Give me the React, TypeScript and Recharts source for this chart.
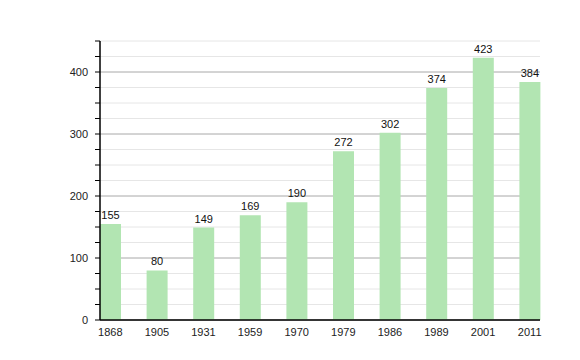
import React from "react";
import { BarChart, Bar, XAxis, YAxis, CartesianGrid, LabelList } from "recharts";

const years = ["1868", "1905", "1931", "1959", "1970", "1979", "1986", "1989", "2001", "2011"];
const population = [155, 80, 149, 169, 190, 272, 302, 374, 423, 384];
const minorTicks = [0, 25, 50, 75, 100, 125, 150, 175, 200, 225, 250, 275, 300, 325, 350, 375, 400, 425, 450];
const majorTicks = [0, 100, 200, 300, 400];

const data = years.map((year, i) => ({ year, pop: population[i] }));

const font = "'Liberation Sans', Arial, sans-serif";

export default function App() {
  return (
    <div style={{ position: "absolute", left: 0, top: 0, fontFamily: font }}>
      <BarChart width={580} height={360} data={data} margin={{ top: 41, right: 40, bottom: 10, left: 0 }}>
        <CartesianGrid horizontalValues={minorTicks} vertical={false} stroke="#e6e6e6" strokeWidth={1} />
        <CartesianGrid horizontalValues={majorTicks} vertical={false} stroke="#b4b4b4" strokeWidth={1} />
        <XAxis
          dataKey="year"
          padding={{ left: -13, right: -13 }}
          tickLine={false}
          axisLine={{ stroke: "#000", strokeWidth: 1.5 }}
          tick={{ fill: "#222", fontSize: 11, fontFamily: font }}
          height={30}
          interval={0}
        />
        <YAxis
          domain={[0, 450]}
          ticks={minorTicks}
          interval={0}
          tickFormatter={(v: number) => (v % 100 === 0 && v < 450 ? String(v) : "")}
          tick={{ fill: "#222", fontSize: 11, fontFamily: font }}
          tickLine={{ stroke: "#000" }}
          tickSize={5}
          tickMargin={7}
          axisLine={{ stroke: "#000", strokeWidth: 1.5 }}
          width={100}
        />
        <Bar dataKey="pop" fill="#b2e5b2" barSize={21} isAnimationActive={false}>
          <LabelList dataKey="pop" position="top" offset={5} fill="#111" fontSize={11} fontFamily={font} />
        </Bar>
      </BarChart>
    </div>
  );
}
